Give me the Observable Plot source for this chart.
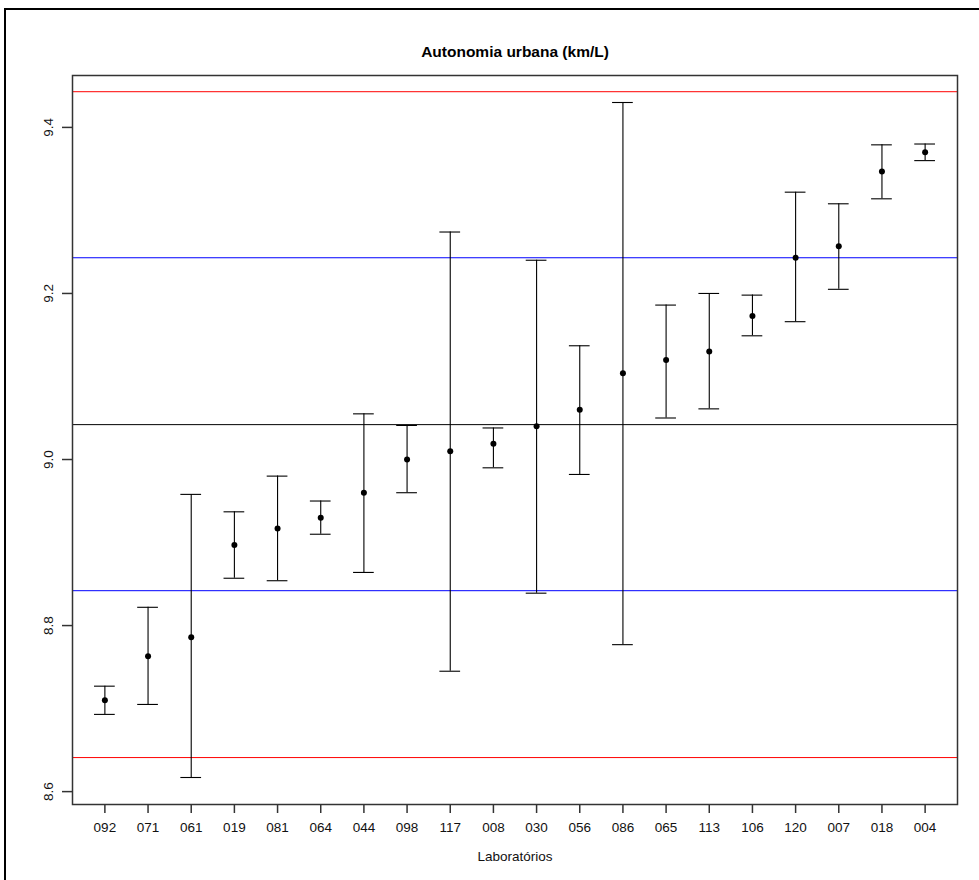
<!DOCTYPE html>
<html>
<head>
<meta charset="utf-8">
<script src="https://cdn.jsdelivr.net/npm/d3@7"></script>
<script src="https://cdn.jsdelivr.net/npm/@observablehq/plot@0.6"></script>
<style>
  html, body { margin: 0; padding: 0; background: #fff; }
  #wrap { position: relative; width: 979px; height: 880px; overflow: hidden; }
  #wrap svg { position: absolute; left: 0; top: 0; }
  #edge { position: absolute; left: 4px; top: 8px; right: -4px; bottom: -4px;
          border-left: 2px solid #000; border-top: 2px solid #000; pointer-events: none; }
</style>
</head>
<body>
<div id="wrap"></div>
<script>
// Laboratories, ordered by their mean urban autonomy
const labs  = ["092","071","061","019","081","064","044","098","117","008",
               "030","056","086","065","113","106","120","007","018","004"];
// Mean result of each laboratory (km/L)
const mean  = [8.710, 8.763, 8.786, 8.897, 8.917, 8.930, 8.960, 9.000, 9.010, 9.019,
               9.040, 9.060, 9.104, 9.120, 9.130, 9.173, 9.243, 9.257, 9.347, 9.370];
// Lower and upper ends of each interval
const lower = [8.693, 8.705, 8.617, 8.857, 8.854, 8.910, 8.864, 8.960, 8.745, 8.990,
               8.839, 8.982, 8.777, 9.050, 9.061, 9.149, 9.166, 9.205, 9.314, 9.360];
const upper = [8.727, 8.822, 8.958, 8.937, 8.980, 8.950, 9.055, 9.041, 9.274, 9.038,
               9.240, 9.137, 9.430, 9.186, 9.200, 9.198, 9.322, 9.308, 9.379, 9.380];
// Reference levels: centre, inner limits (blue) and outer limits (red)
const refLevels = [8.641, 8.842, 9.042, 9.243, 9.443];
const refColors = ["#ff0000", "#0000ff", "#000000", "#0000ff", "#ff0000"];
const yTicks = [8.6, 8.8, 9.0, 9.2, 9.4];

const rows = labs.map((lab, i) => ({lab, mean: mean[i], lower: lower[i], upper: upper[i]}));
const refs = refLevels.map((v, i) => ({v, color: refColors[i]}));

// y range: span of the intervals, widened by 4% on each side
const lo = d3.min(lower), hi = d3.max(upper), pad = (hi - lo) * 0.04;

const font = "'Liberation Sans', Arial, Helvetica, sans-serif";

const chart = Plot.plot({
  width: 979,
  height: 880,
  marginLeft: 72,
  marginRight: 22,
  marginTop: 75,
  marginBottom: 76,
  style: {fontFamily: font, fontSize: "13.5px", color: "#111", background: "transparent", overflow: "visible"},
  // band width doubles as the width of the interval caps
  x: {type: "band", domain: labs, paddingInner: 0.52, paddingOuter: 0.51, round: false},
  y: {domain: [lo - pad, hi + pad]},
  marks: [
    Plot.ruleY(refs, {y: "v", stroke: "color", strokeWidth: 1}),
    Plot.ruleX(rows, {x: "lab", y1: "lower", y2: "upper", stroke: "#000", strokeWidth: 1.1}),
    Plot.tickY(rows, {x: "lab", y: "upper", stroke: "#000", strokeWidth: 1.1}),
    Plot.tickY(rows, {x: "lab", y: "lower", stroke: "#000", strokeWidth: 1.1}),
    Plot.dot(rows, {x: "lab", y: "mean", r: 3, fill: "#000", stroke: null}),
    Plot.frame({stroke: "#333", strokeWidth: 1.5}),
    Plot.axisX({tickSize: 9, tickPadding: 9, fontSize: 13.5, label: null, stroke: "#333", strokeWidth: 1.5}),
    Plot.axisY({ticks: yTicks, tickSize: 10, tickPadding: 10, tickRotate: -90,
                tickFormat: d3.format(".1f"), fontSize: 13.5, label: null, stroke: "#333", strokeWidth: 1.5}),
    Plot.text(["Autonomia urbana (km/L)"], {frameAnchor: "top", dy: -30, fontSize: 15.5, fontWeight: "bold", fill: "#000"}),
    Plot.text(["Laboratórios"], {frameAnchor: "bottom", dy: 56, fontSize: 13.5, fill: "#111"})
  ]
});

const wrap = document.getElementById("wrap");
wrap.appendChild(chart);
const edge = document.createElement("div");
edge.id = "edge";
wrap.appendChild(edge);
</script>
</body>
</html>
